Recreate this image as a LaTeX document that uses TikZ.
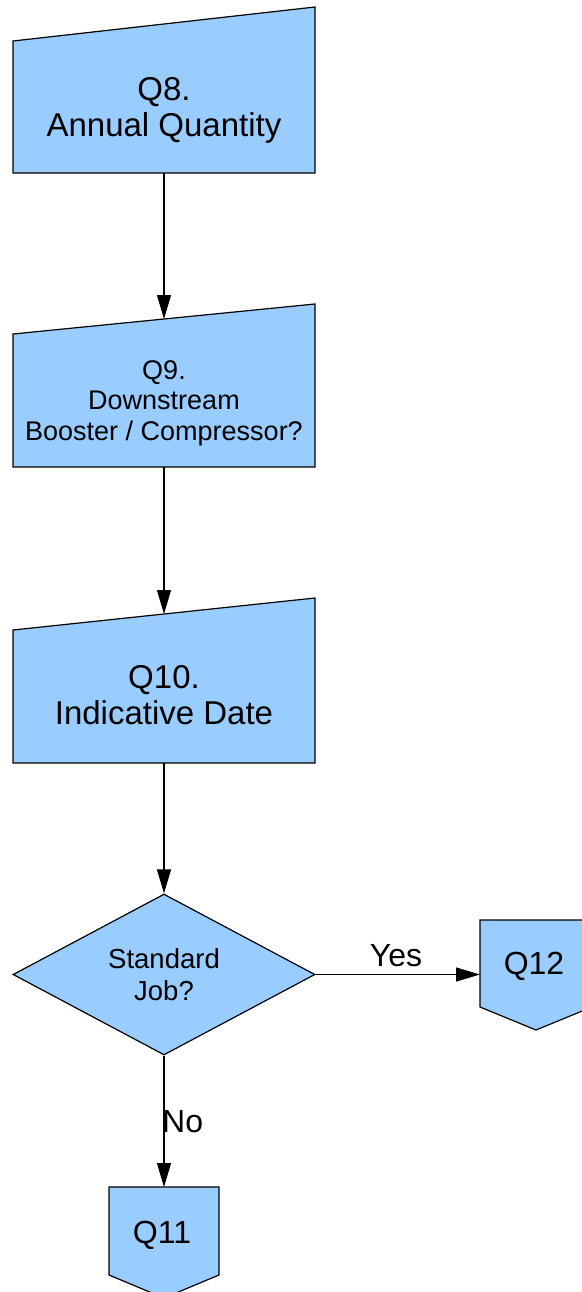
\documentclass[tikz,border=0pt]{standalone}
\usepackage{fontspec}
\setmainfont{Liberation Sans}
\usetikzlibrary{arrows.meta,shapes.geometric}
\definecolor{boxblue}{HTML}{99CCFF}
\begin{document}
\begin{tikzpicture}[x=1pt,y=-1pt,
  shapeline/.style={draw=black,fill=boxblue,line width=1.2pt,line join=miter},
  conn/.style={draw=black,line width=1.2pt,-{Triangle[length=24pt,width=14pt]}},
  bigtext/.style={font=\fontsize{33}{36}\selectfont,align=center,inner sep=0pt},
  midtext/.style={font=\fontsize{27}{30.5}\selectfont,align=center,inner sep=0pt},
  lbl/.style={font=\fontsize{32}{38}\selectfont,inner sep=0pt},
  decision/.style={shape=diamond,draw=black,fill=boxblue,line width=1.2pt,
    minimum width=302pt,minimum height=161pt,inner sep=0pt,aspect=1.875,
    font=\fontsize{27.5}{32}\selectfont,align=center}]
\useasboundingbox (0,0) rectangle (581,1292);

% Q8 manual input box
\path[shapeline] (13,41) -- (315,7) -- (315,173) -- (13,173) -- cycle;
\coordinate (q8bot) at (164,173);
\node[bigtext] (q8) at (164,110) {Q8.\\Annual Quantity};

% Q9 manual input box
\path[shapeline] (13,334) -- (315,304) -- (315,467) -- (13,467) -- cycle;
\coordinate (q9top) at (164,319);
\coordinate (q9bot) at (164,467);
\node[midtext] (q9) at (164,403) {Q9.\\Downstream\\Booster / Compressor?};

% Q10 manual input box
\path[shapeline] (13,630) -- (315,598) -- (315,763) -- (13,763) -- cycle;
\coordinate (q10top) at (164,614);
\coordinate (q10bot) at (164,763);
\node[bigtext] (q10) at (164,695) {Q10.\\Indicative Date};

% decision
\node[decision] (dec) at (164,974.5) {Standard\\Job?};

% Q12 off-page connector
\path[shapeline] (480,920) -- (592,920) -- (592,1007) -- (536,1030) -- (480,1007) -- cycle;
\coordinate (q12left) at (480,974.5);
\node[lbl,anchor=base] (q12) at (534,974) {Q12};

% Q11 off-page connector
\path[shapeline] (109,1187) -- (219,1187) -- (219,1275) -- (164,1298) -- (109,1275) -- cycle;
\coordinate (q11top) at (164,1187);
\node[lbl,anchor=base] (q11) at (162,1243) {Q11};

% connectors
\draw[conn] (q8bot) -- (q9top);
\draw[conn] (q9bot) -- (q10top);
\draw[conn] (q10bot) -- (dec.north);
\draw[conn] (dec.east) -- (q12left);
\draw[conn] (dec.south) -- (q11top);

% labels
\node[lbl,anchor=base] (yes) at (396,966) {Yes};
\node[lbl,anchor=base west] (no) at (162,1132) {No};
\end{tikzpicture}
\end{document}
